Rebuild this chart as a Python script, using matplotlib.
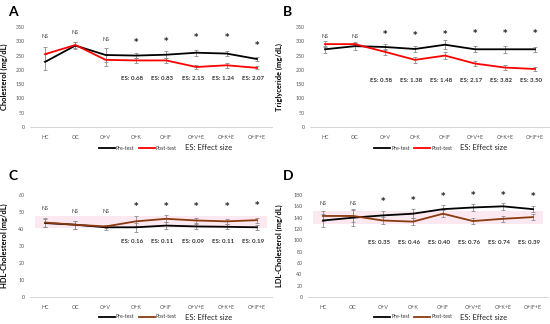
import matplotlib
matplotlib.use("Agg")
import matplotlib.pyplot as plt
from matplotlib.lines import Line2D

plt.rcParams["font.family"] = ["Lato", "DejaVu Sans"]

categories = ["HC", "OC", "O+V", "O+K", "O+IF", "O+V+E", "O+K+E", "O+IF+E"]

chol_pre = [228, 285, 252, 250, 253, 260, 257, 238]
chol_post = [255, 287, 235, 233, 233, 210, 216, 207]
chol_pre_err = [28, 12, 25, 10, 12, 10, 10, 6]
chol_post_err = [25, 10, 22, 8, 10, 8, 8, 5]
chol_marks = ["NS", "NS", "NS", "*", "*", "*", "*", "*"]
chol_mark_y = [315, 332, 305, 297, 300, 313, 313, 285]
chol_es = ["", "", "", "ES: 0.68", "ES: 0.83", "ES: 2.15", "ES: 1.24", "ES: 2.07"]

tg_pre = [272, 283, 280, 273, 288, 272, 272, 272]
tg_post = [290, 290, 263, 235, 250, 222, 208, 203]
tg_pre_err = [12, 12, 12, 12, 15, 10, 12, 8]
tg_post_err = [10, 8, 10, 10, 12, 10, 10, 6]
tg_marks = ["NS", "NS", "*", "*", "*", "*", "*", "*"]
tg_mark_y = [318, 318, 322, 320, 325, 327, 328, 327]
tg_es = ["", "", "ES: 0.58", "ES: 1.38", "ES: 1.48", "ES: 2.17", "ES: 3.82", "ES: 3.50"]

hdl_pre = [43.5, 42.5, 41.0, 41.0, 42.0, 41.5, 41.3, 41.0]
hdl_post = [43.8, 42.5, 41.5, 44.5, 46.0, 45.0, 44.5, 45.2]
hdl_pre_err = [2.5, 2.5, 1.5, 2.5, 2.0, 1.5, 1.5, 1.5]
hdl_post_err = [2.5, 2.5, 1.0, 3.0, 2.0, 1.5, 1.5, 1.5]
hdl_marks = ["NS", "NS", "NS", "*", "*", "*", "*", "*"]
hdl_mark_y = [52.0, 50.5, 50.5, 53.0, 53.5, 53.5, 53.3, 53.8]
hdl_es = ["", "", "", "ES: 0.16", "ES: 0.11", "ES: 0.09", "ES: 0.11", "ES: 0.19"]

ldl_pre = [135, 140, 144, 147, 155, 158, 160, 155]
ldl_post = [143, 143, 135, 133, 147, 134, 138, 141]
ldl_pre_err = [12, 15, 8, 8, 8, 6, 6, 5]
ldl_post_err = [8, 10, 6, 6, 6, 5, 5, 5]
ldl_marks = ["NS", "NS", "*", "*", "*", "*", "*", "*"]
ldl_mark_y = [165, 165, 169, 170, 178, 179, 179, 177]
ldl_es = ["", "", "ES: 0.35", "ES: 0.46", "ES: 0.40", "ES: 0.76", "ES: 0.74", "ES: 0.39"]

W, H = 550, 324
fig = plt.figure(figsize=(W / 100, H / 100), dpi=100)
fig.patch.set_facecolor("white")


def px_axes(x0, x1, ytop, ybot):
    return fig.add_axes([x0 / W, 1 - ybot / H, (x1 - x0) / W, (ybot - ytop) / H])


panels = [
    dict(letter="A", box=(30, 272, 27, 127), pre=chol_pre, post=chol_post,
         pe=chol_pre_err, qe=chol_post_err, marks=chol_marks, my=chol_mark_y,
         es=chol_es, es_y=168, ylim=350, step=50, ylabel="Cholesterol (mg/dL)",
         post_color="#ff0000", band=None, leg_y=148, lx=0, ly0=12),
    dict(letter="B", box=(310, 550, 27, 127), pre=tg_pre, post=tg_post,
         pe=tg_pre_err, qe=tg_post_err, marks=tg_marks, my=tg_mark_y,
         es=tg_es, es_y=161, ylim=350, step=50, ylabel="Triglyceride (mg/dL)",
         post_color="#ff0000", band=None, leg_y=148, lx=275, ly0=12),
    dict(letter="C", box=(30, 272, 195, 297), pre=hdl_pre, post=hdl_post,
         pe=hdl_pre_err, qe=hdl_post_err, marks=hdl_marks, my=hdl_mark_y,
         es=hdl_es, es_y=32.4, ylim=60, step=10, ylabel="HDL-Cholesterol (mg/dL)",
         post_color="#8b3a0e", band=(40.5, 47.5), leg_y=317, lx=0, ly0=176),
    dict(letter="D", box=(308, 548, 195, 297), pre=ldl_pre, post=ldl_post,
         pe=ldl_pre_err, qe=ldl_post_err, marks=ldl_marks, my=ldl_mark_y,
         es=ldl_es, es_y=97, ylim=180, step=20, ylabel="LDL-Cholesterol (mg/dL)",
         post_color="#8b3a0e", band=(129, 151), leg_y=317, lx=275, ly0=176),
]

x = list(range(len(categories)))
for p in panels:
    ax = px_axes(*p["box"])
    ax.set_xlim(-0.5, 7.5)
    ax.set_ylim(0, p["ylim"])
    if p["band"] is not None:
        ax.axhspan(p["band"][0], p["band"][1], xmin=0.02, xmax=0.98,
                   color="#fbe3ee", alpha=0.8, lw=0, zorder=0)
    ax.errorbar(x, p["pre"], yerr=p["pe"], color="black", lw=1.3,
                ecolor="#8c8c8c", elinewidth=0.6, capsize=1.5, capthick=0.6, zorder=3)
    ax.errorbar(x, p["post"], yerr=p["qe"], color=p["post_color"], lw=1.3,
                ecolor="#8c8c8c", elinewidth=0.6, capsize=1.5, capthick=0.6, zorder=3)
    for i in x:
        m = p["marks"][i]
        if m == "NS":
            ax.text(i, p["my"][i], m, ha="center", va="center", fontsize=3.8, color="#333333")
        else:
            ax.text(i, p["my"][i], m, ha="center", va="center", fontsize=6,
                    fontweight="bold", color="#222222", family="DejaVu Sans")
        if p["es"][i]:
            ax.text(i - 0.12, p["es_y"], p["es"][i], ha="center", va="center",
                    fontsize=4.4, color="#333333", fontweight="bold")
    ax.set_yticks(list(range(0, p["ylim"] + 1, p["step"])))
    ax.set_xticks(x)
    ax.set_xticklabels(categories)
    ax.tick_params(axis="both", length=0, labelsize=3.8, colors="#555555")
    ax.tick_params(axis="x", pad=6)
    ax.tick_params(axis="y", pad=4)
    for s in ["left", "right", "top"]:
        ax.spines[s].set_visible(False)
    ax.spines["bottom"].set_color("#d0d0d0")
    ax.spines["bottom"].set_linewidth(0.6)
    ax.set_ylabel(p["ylabel"], fontsize=5.4, fontweight="bold")
    ax.yaxis.set_label_coords((p["lx"] + 8 - p["box"][0]) / (p["box"][1] - p["box"][0]), 0.5)
    ax.patch.set_alpha(0)

    lx = p["lx"]
    fig.text((lx + 13) / W, 1 - p["ly0"] / H, p["letter"], fontsize=10, fontweight="bold",
             ha="center", va="center")
    # legend
    ly = 1 - p["leg_y"] / H
    fig.add_artist(Line2D([(lx + 99) / W, (lx + 115) / W], [ly, ly], color="black", lw=1.3))
    fig.text((lx + 116) / W, ly, "Pre-test", fontsize=3.8, va="center", color="#333333")
    fig.add_artist(Line2D([(lx + 139) / W, (lx + 155) / W], [ly, ly],
                          color=p["post_color"], lw=1.3))
    fig.text((lx + 156) / W, ly, "Post-test", fontsize=3.8, va="center", color="#333333")
    fig.text((lx + 185) / W, ly, "ES: Effect size", fontsize=5.5, va="center", color="#222222")

fig.savefig("out.png", dpi=100)
